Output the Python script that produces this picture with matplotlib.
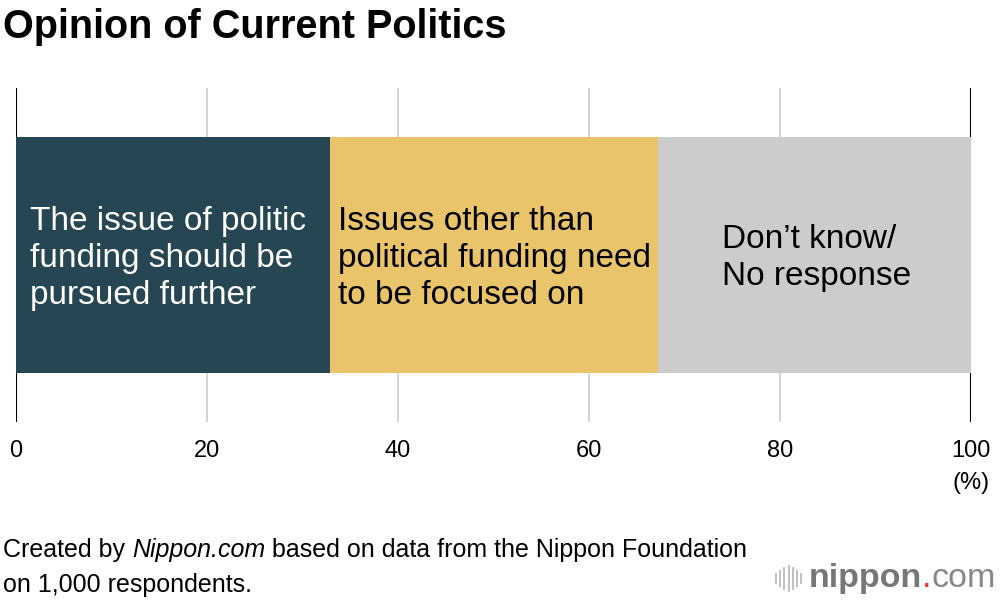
import matplotlib.pyplot as plt

# Données
categories = ["The issue of politic\nfunding should be\npursued further",
              "Issues other than\npolitical funding need\nto be focused on",
              "Don\u2019t know/\nNo response"]
values = [32.9, 34.3, 32.8]
colors = ["#264653", "#e9c46a", "#cccccc"]
text_colors = ["white", "black", "black"]
ticks = [0, 20, 40, 60, 80, 100]

plt.rcParams['font.family'] = ['Liberation Sans', 'DejaVu Sans']

fig = plt.figure(figsize=(10, 6), dpi=100)
ax = fig.add_axes([0.016, 0.297, 0.955, 0.556])

# grille
for t in ticks:
    c = 'black' if t in (0, 100) else '#cccccc'
    ax.axvline(t, color=c, lw=1.5 if t in (0, 100) else 1.2, zorder=0)

left = 0
for cat, v, col, tc in zip(categories, values, colors, text_colors):
    ax.barh(0, v, left=left, height=0.707, color=col, zorder=2)
    if tc == "white":
        x = left + 1.5
    elif left > 60:
        x = left + 6.7
    else:
        x = left + 0.8
    ax.text(x, -0.01, cat, color=tc, fontsize=24, va='center', ha='left',
            linespacing=1.25, zorder=3)
    left += v

ax.set_xlim(0, 100)
ax.set_ylim(-0.5, 0.5)
ax.set_yticks([])
ax.set_xticks(ticks)
ax.set_xticklabels([str(t) for t in ticks], fontsize=17)
ax.tick_params(axis='x', length=0, pad=13)
for s in ax.spines.values():
    s.set_visible(False)

fig.text(0.971, 0.195, "(%)", fontsize=17, ha='center', va='center')

fig.text(0.003, 0.955, "Opinion of Current Politics", fontsize=28.5,
         fontweight='bold', ha='left', va='center')

renderer = fig.canvas.get_renderer()


def texte_suite(x, y, morceaux, **kw):
    """Place des morceaux de texte les uns après les autres."""
    for txt, props in morceaux:
        p = dict(kw)
        p.update(props)
        t = fig.text(x, y, txt, ha='left', va='baseline', **p)
        bb = t.get_window_extent(renderer)
        x = (bb.x1) / fig.bbox.width
    return x


texte_suite(0.003, 0.072, [("Created by ", {}), ("Nippon.com", {'style': 'italic'}),
                           (" based on data from the Nippon Foundation", {})], fontsize=18)
fig.text(0.003, 0.014, "on 1,000 respondents.", fontsize=18, ha='left', va='baseline')

# logo
for i, h in enumerate([0.014, 0.024, 0.034, 0.042, 0.034, 0.024, 0.014]):
    xx = 0.776 + i * 0.0042
    fig.add_artist(plt.Line2D([xx, xx], [0.036 - h / 2, 0.036 + h / 2],
                              color='#bbbbbb', lw=1.3))
texte_suite(0.809, 0.021, [("nippon", {'fontweight': 'bold', 'color': '#777777'}),
                           (".", {'color': '#e8383d'}),
                           ("com", {'color': '#888888'})], fontsize=24.5)

fig.savefig("out.png", dpi=100)
